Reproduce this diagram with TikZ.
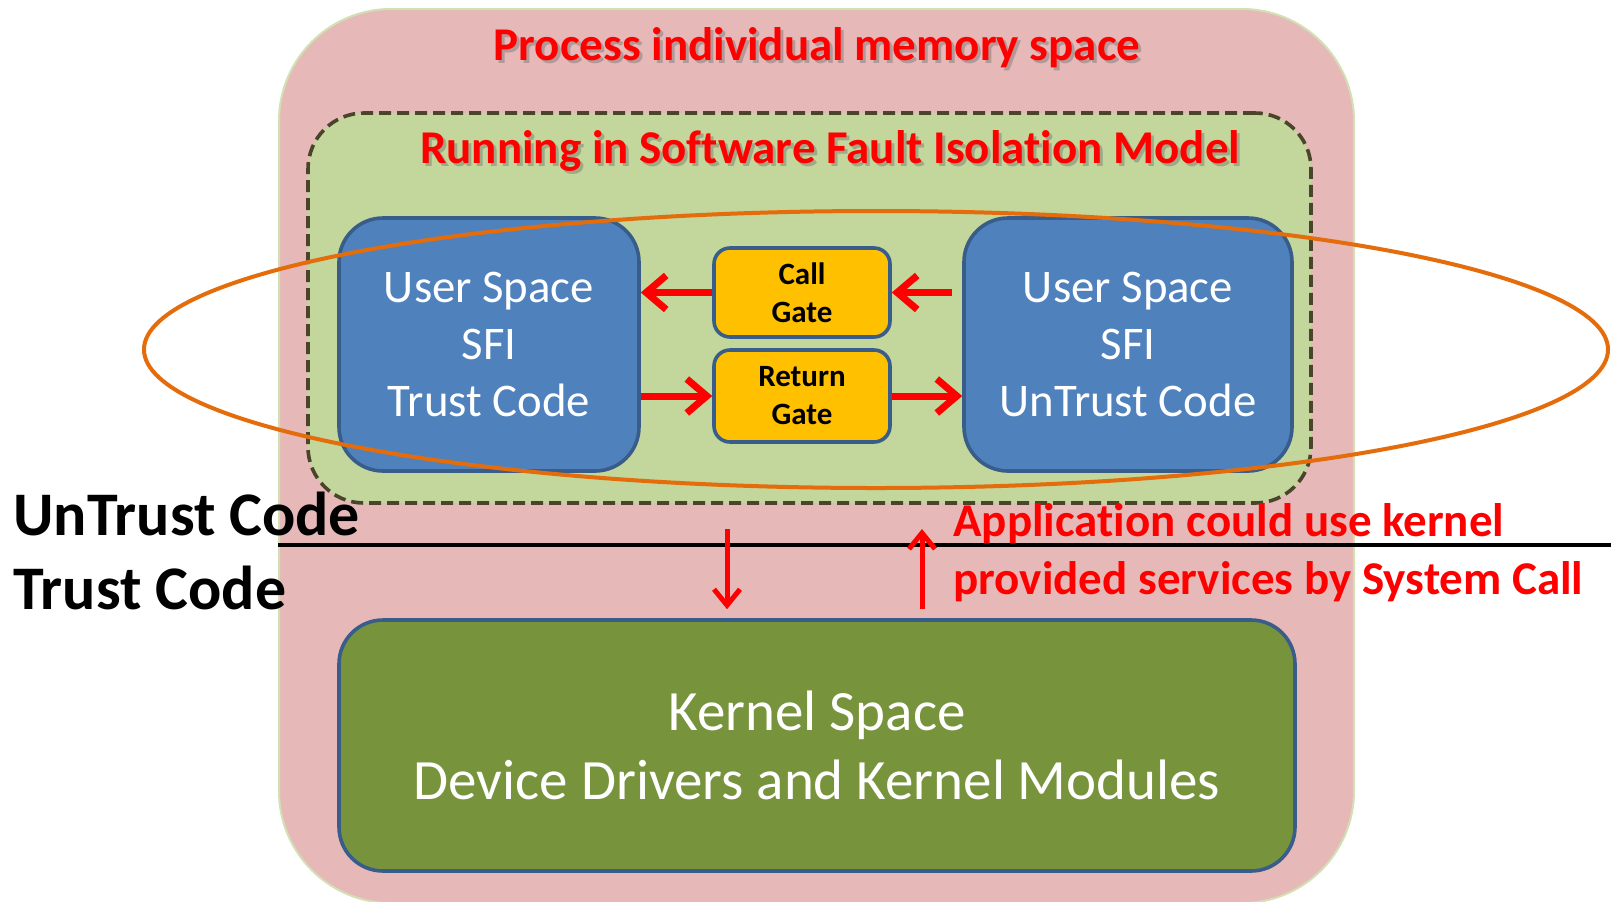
\documentclass[tikz,border=0pt]{standalone}
\usepackage{fontspec}
\setmainfont{Carlito}[Ligatures={NoCommon,NoContextual,NoRequired},Contextuals=NoAlternate]
\usetikzlibrary{arrows.meta,shapes.geometric}
\definecolor{pinkfill}{RGB}{230,185,184}
\definecolor{pinkedge}{RGB}{210,224,180}
\definecolor{sfigreen}{RGB}{195,214,155}
\definecolor{dashcol}{RGB}{74,69,42}
\definecolor{userblue}{RGB}{79,129,189}
\definecolor{edgeblue}{RGB}{56,93,138}
\definecolor{gateyel}{RGB}{255,192,0}
\definecolor{kernelgreen}{RGB}{119,147,60}
\definecolor{ringorange}{RGB}{228,108,10}
\definecolor{alertred}{RGB}{255,0,0}

\begin{document}
\begin{tikzpicture}[x=0.5pt,y=-0.5pt,
  usrbox/.style={draw=edgeblue, line width=1.8pt, fill=userblue, rounded corners=22pt,
    text=white, font=\fontsize{23.4}{28.3}\selectfont, align=center, inner sep=0pt},
  gatebox/.style={draw=edgeblue, line width=1.8pt, fill=gateyel, rounded corners=8pt,
    font=\bfseries\fontsize{15.5}{19}\selectfont, align=center, inner sep=0pt,
    minimum width=88pt},
  titletxt/.style={text=alertred, font=\bfseries\fontsize{23.5}{28}\selectfont, inner sep=0pt},
  titleshade/.style={text=black!55, opacity=0.45, font=\bfseries\fontsize{23.5}{28}\selectfont, inner sep=0pt},
  sidetxt/.style={font=\bfseries\fontsize{31}{36}\selectfont, inner sep=0pt, anchor=west},
  flow/.style={draw=alertred, line width=3.5pt,
    -{Straight Barb[length=10pt,width=17pt,line width=3.5pt]}},
  sysarrow/.style={draw=alertred, line width=2.5pt,
    -{Straight Barb[length=8pt,width=13pt,line width=2.5pt]}}
]
\useasboundingbox[fill=white] (0,0) rectangle (1611,901);

% process memory space
\node[draw=pinkedge, line width=1pt, fill=pinkfill, rounded corners=56pt,
  minimum width=537.5pt, minimum height=447pt, inner sep=0pt] (proc) at (816.5,456) {};

% SFI sandbox
\node[draw=dashcol, dash pattern=on 6pt off 3pt, line width=1.8pt, fill=sfigreen,
  rounded corners=28pt, minimum width=501.5pt, minimum height=195pt, inner sep=0pt]
  (sfi) at (809.5,308) {};

% headings
\node[titleshade] at (820,51) {Process individual memory space};
\node[titletxt] (t1) at (817,48) {Process individual memory space};
\node[titleshade] at (833,154) {Running in Software Fault Isolation Model};
\node[titletxt] (t2) at (830,151) {Running in Software Fault Isolation Model};

% user space boxes
\node[usrbox, minimum width=150pt, minimum height=126.5pt] (lb) at (489,344.5)
  {User Space\\SFI\\Trust Code};
\node[usrbox, minimum width=164pt, minimum height=126.5pt] (rb) at (1128,344.5)
  {User Space\\SFI\\UnTrust Code};

% gates
\node[gatebox, minimum height=44.5pt] (cg) at (802,292.5) {Call\\Gate};
\node[gatebox, minimum height=46pt] (rg) at (802,396) {Return\\Gate};

% gate transitions
\draw[flow, shorten <=5pt] (cg.east -| rb.west) -- (cg.east);
\draw[flow] (cg.west) -- (cg.west -| lb.east);
\draw[flow] (rg.west -| lb.east) -- (rg.west);
\draw[flow] (rg.east) -- (rg.east -| rb.west);

% highlight ring
\node[draw=ringorange, line width=2pt, ellipse, minimum width=732pt, minimum height=138.5pt,
  inner sep=0pt] (ring) at (876,349.5) {};

% privilege boundary
\coordinate (lineR) at (1611,545);
\draw[line width=2pt] (proc.west |- lineR) -- (lineR);
\node[sidetxt] (untr) at (13,514) {UnTrust Code};
\node[sidetxt] (tr) at (13,588) {Trust Code};

% kernel space
\node[draw=edgeblue, line width=1.8pt, fill=kernelgreen, rounded corners=22pt,
  minimum width=478pt, minimum height=125.5pt, inner sep=0pt, text=white,
  font=\fontsize{28.5}{34.5}\selectfont, align=center] (kern) at (817,745.5)
  {Kernel Space\\Device Drivers and Kernel Modules};

% system call arrows
\coordinate (dtail) at (727,529);
\coordinate (utip) at (922,529);
\draw[sysarrow, shorten >=4.5pt] (dtail) -- (dtail |- kern.north);
\draw[sysarrow, shorten <=4.5pt] (utip |- kern.north) -- (utip);

\node[text=alertred, font=\bfseries\fontsize{23.5}{29}\selectfont, align=left,
  inner sep=0pt, anchor=west] (note) at (953,553)
  {Application could use kernel\\provided services by System Call};
\end{tikzpicture}
\end{document}
